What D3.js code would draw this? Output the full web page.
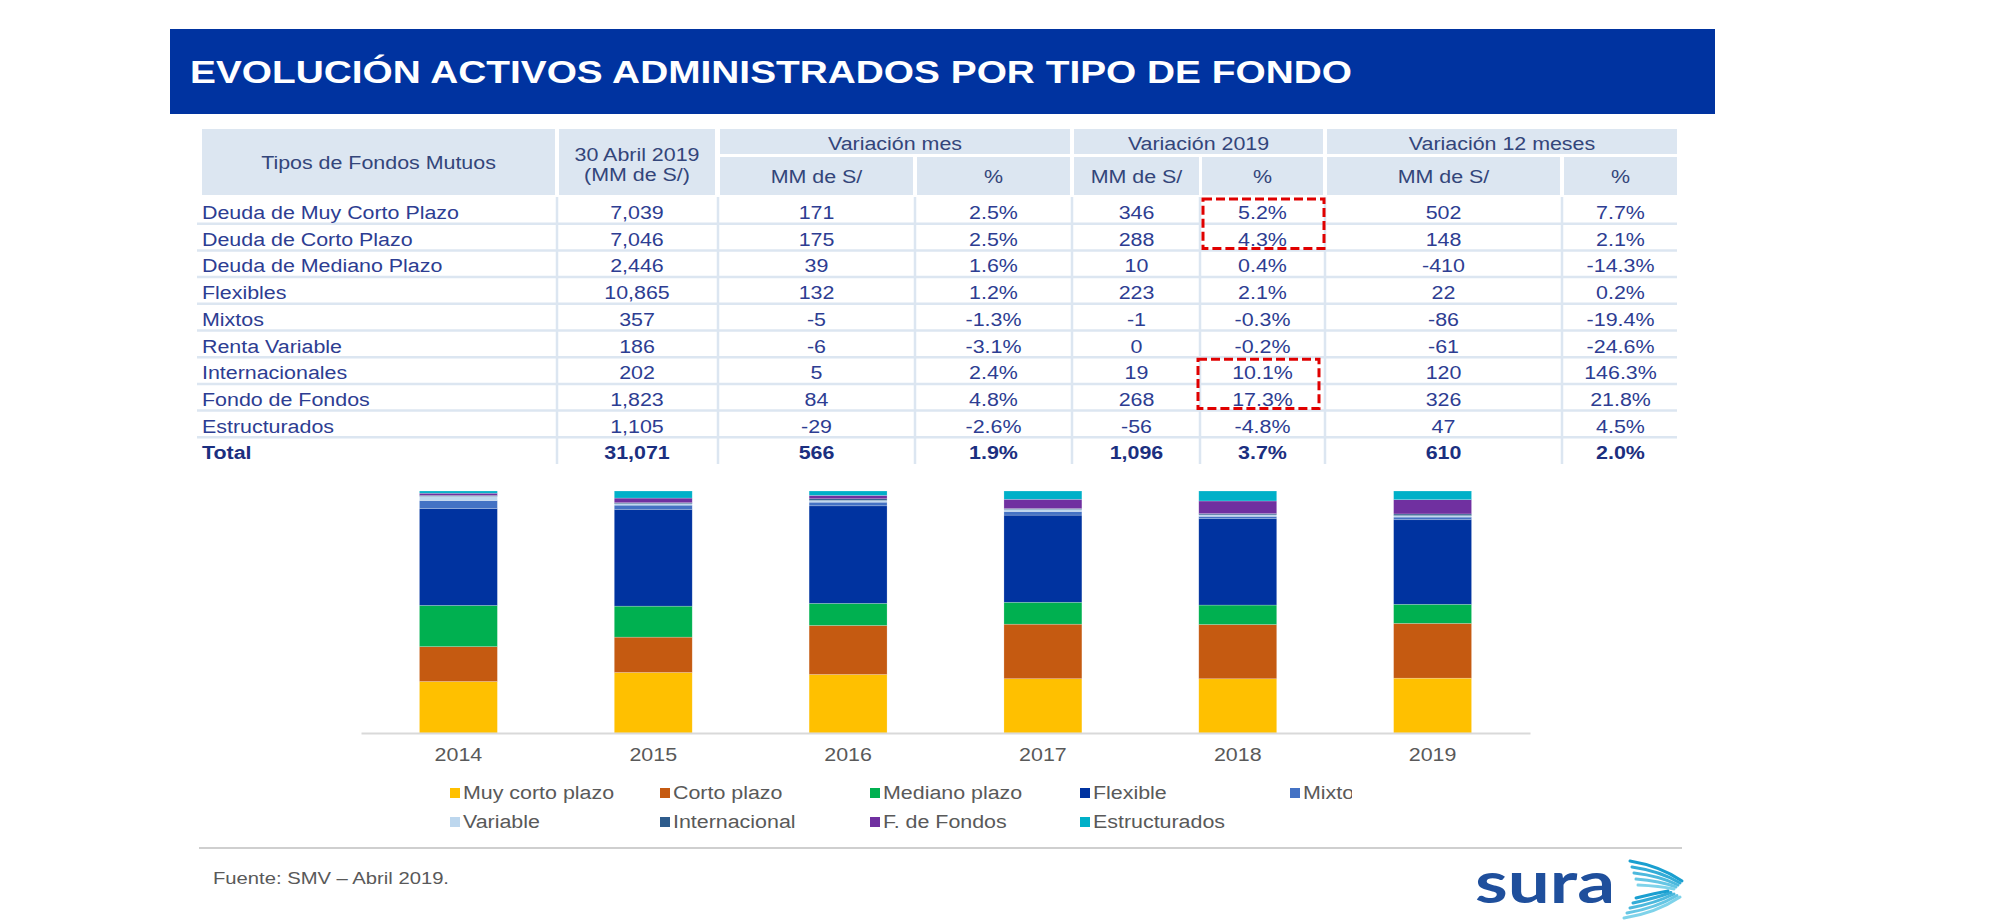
<!DOCTYPE html>
<html>
<head>
<meta charset="utf-8">
<script src="https://cdn.jsdelivr.net/npm/d3@7"></script>
<style>
  body { margin: 0; background: #fff; }
  svg { display: block; font-family: "Liberation Sans", Arial, sans-serif; }
</style>
</head>
<body>
<svg id="chart" width="2010" height="920"></svg>
<script>
// table data (MM de S/ and %)
var fondos = ["Deuda de Muy Corto Plazo", "Deuda de Corto Plazo", "Deuda de Mediano Plazo", "Flexibles",
  "Mixtos", "Renta Variable", "Internacionales", "Fondo de Fondos", "Estructurados", "Total"];
var saldoAbr19 = [7039, 7046, 2446, 10865, 357, 186, 202, 1823, 1105, 31071];
var varMesMM  = [171, 175, 39, 132, -5, -6, 5, 84, -29, 566];
var varMesPct = [2.5, 2.5, 1.6, 1.2, -1.3, -3.1, 2.4, 4.8, -2.6, 1.9];
var var19MM   = [346, 288, 10, 223, -1, 0, 19, 268, -56, 1096];
var var19Pct  = [5.2, 4.3, 0.4, 2.1, -0.3, -0.2, 10.1, 17.3, -4.8, 3.7];
var var12MM   = [502, 148, -410, 22, -86, -61, 120, 326, 47, 610];
var var12Pct  = [7.7, 2.1, -14.3, 0.2, -19.4, -24.6, 146.3, 21.8, 4.5, 2.0];

// chart data: share of total (%) per year
var years = ["2014", "2015", "2016", "2017", "2018", "2019"];
var muyCorto      = [21.1, 24.8, 24.1, 22.3, 22.3, 22.7];
var corto         = [14.3, 14.5, 20.2, 22.4, 22.3, 22.7];
var mediano       = [16.9, 12.7, 9.1, 9.0, 8.0, 7.9];
var flexible      = [39.7, 39.7, 40.2, 35.8, 35.5, 35.0];
var mixto         = [3.3, 1.7, 1.5, 1.5, 1.0, 1.1];
var variable      = [1.7, 0.6, 0.7, 0.8, 0.6, 0.6];
var internacional = [0.4, 0.4, 0.7, 0.4, 0.5, 0.7];
var fFondos       = [0.9, 1.9, 1.4, 3.8, 5.2, 5.9];
var estructurados = [0.9, 2.9, 1.8, 3.4, 4.1, 3.6];

var seriesNames = ["Muy corto plazo", "Corto plazo", "Mediano plazo", "Flexible", "Mixto",
  "Variable", "Internacional", "F. de Fondos", "Estructurados"];
var seriesValues = [muyCorto, corto, mediano, flexible, mixto, variable, internacional, fFondos, estructurados];
var seriesColors = ["#ffc000", "#c55a11", "#00b050", "#0033a0", "#4472c4",
  "#bdd7ee", "#2e5c8c", "#7030a0", "#00b0c8"];

var svg = d3.select("#chart");
var SX = 1.19; // the slide text is stretched horizontally

function stext(g, x, y, str, anchor) {
  return g.append("text")
    .attr("transform", "translate(" + x + "," + y + ") scale(" + SX + ",1)")
    .attr("text-anchor", anchor || "middle")
    .text(str);
}

// title band
svg.append("rect").attr("x", 170).attr("y", 29).attr("width", 1545).attr("height", 85).attr("fill", "#0033a0");
svg.append("text")
  .attr("x", 190).attr("y", 83)
  .attr("textLength", 1162).attr("lengthAdjust", "spacingAndGlyphs")
  .attr("fill", "#fff").attr("font-weight", "bold").attr("font-size", 32)
  .text("EVOLUCIÓN ACTIVOS ADMINISTRADOS POR TIPO DE FONDO");

// ---- table ----
var loc = d3.formatLocale({decimal: ".", thousands: ",", grouping: [3], currency: ["", ""], minus: "-"});
var fNum = loc.format(","), fPct = function(v) { return loc.format(".1f")(v) + "%"; };

var cols = [
  {x0: 202, x1: 555}, {x0: 559, x1: 715},
  {x0: 720, x1: 913}, {x0: 917, x1: 1070},
  {x0: 1074, x1: 1199}, {x0: 1202, x1: 1323},
  {x0: 1327, x1: 1560}, {x0: 1564, x1: 1677}
];
var groups = [{name: "Variación mes", c: [2, 3]}, {name: "Variación 2019", c: [4, 5]}, {name: "Variación 12 meses", c: [6, 7]}];
var hdrFill = "#dce6f1", hdrText = "#33457a";

var tbl = svg.append("g").attr("font-size", 18);

// header cells
tbl.append("rect").attr("x", cols[0].x0).attr("y", 129).attr("width", cols[0].x1 - cols[0].x0).attr("height", 66).attr("fill", hdrFill);
tbl.append("rect").attr("x", cols[1].x0).attr("y", 129).attr("width", cols[1].x1 - cols[1].x0).attr("height", 66).attr("fill", hdrFill);
groups.forEach(function(gr) {
  var a = cols[gr.c[0]], b = cols[gr.c[1]];
  tbl.append("rect").attr("x", a.x0).attr("y", 129).attr("width", b.x1 - a.x0).attr("height", 25).attr("fill", hdrFill);
  stext(tbl, (a.x0 + b.x1) / 2, 150, gr.name).attr("fill", hdrText);
  [a, b].forEach(function(c, k) {
    tbl.append("rect").attr("x", c.x0).attr("y", 157).attr("width", c.x1 - c.x0).attr("height", 38).attr("fill", hdrFill);
    stext(tbl, (c.x0 + c.x1) / 2, 183, k === 0 ? "MM de S/" : "%").attr("fill", hdrText);
  });
});
stext(tbl, (cols[0].x0 + cols[0].x1) / 2, 169, "Tipos de Fondos Mutuos").attr("fill", hdrText);
stext(tbl, (cols[1].x0 + cols[1].x1) / 2, 161, "30 Abril 2019").attr("fill", hdrText);
stext(tbl, (cols[1].x0 + cols[1].x1) / 2, 181, "(MM de S/)").attr("fill", hdrText);

// body grid
var rowTop = 197, rowH = 26.7;
var lineCol = "#dce6f1";
for (var i = 0; i < fondos.length - 1; i++) {
  tbl.append("line").attr("x1", 197).attr("x2", 1677)
    .attr("y1", rowTop + rowH * (i + 1)).attr("y2", rowTop + rowH * (i + 1))
    .attr("stroke", lineCol).attr("stroke-width", 2.5);
}
cols.slice(1).forEach(function(c) {
  tbl.append("line").attr("x1", c.x0 - 2).attr("x2", c.x0 - 2)
    .attr("y1", rowTop).attr("y2", rowTop + rowH * fondos.length)
    .attr("stroke", lineCol).attr("stroke-width", 2.5);
});

// body text
var columns = [saldoAbr19.map(fNum), varMesMM.map(fNum), varMesPct.map(fPct),
  var19MM.map(fNum), var19Pct.map(fPct), var12MM.map(fNum), var12Pct.map(fPct)];
fondos.forEach(function(name, r) {
  var isTotal = r === fondos.length - 1;
  var y = rowTop + 22 + rowH * r;
  var fill = isTotal ? "#1b2f80" : "#2d3d92";
  var w = isTotal ? "bold" : "normal";
  stext(tbl, cols[0].x0, y, name, "start").attr("fill", fill).attr("font-weight", w);
  columns.forEach(function(arr, c) {
    var col = cols[c + 1];
    stext(tbl, (col.x0 + col.x1) / 2, y, arr[r]).attr("fill", fill).attr("font-weight", w);
  });
});

// red dashed highlights on "Variación 2019 %"
[{row: 0, dx: 1}, {row: 6, dx: -4}].forEach(function(h) {
  var c = cols[5];
  tbl.append("rect")
    .attr("x", c.x0 + h.dx).attr("y", rowTop + rowH * h.row + 2)
    .attr("width", c.x1 - c.x0).attr("height", rowH * 2 - 4)
    .attr("fill", "none").attr("stroke", "#e00000").attr("stroke-width", 3)
    .attr("stroke-dasharray", "9,4");
});

// ---- stacked 100% bar chart ----
var table = years.map(function(y, j) {
  var row = {year: y};
  seriesNames.forEach(function(n, s) { row[n] = seriesValues[s][j]; });
  return row;
});
var stack = d3.stack().keys(seriesNames).offset(d3.stackOffsetExpand)(table);

var x = d3.scaleBand().domain(years).range([361, 1530]).paddingInner(0.6).paddingOuter(0.3);
var y = d3.scaleLinear().domain([0, 1]).range([733, 491]);

var chart = svg.append("g");
chart.selectAll("g.serie").data(stack).enter()
  .append("g").attr("class", "serie")
  .attr("fill", function(d, i) { return seriesColors[i]; })
  .selectAll("rect").data(function(d) { return d; }).enter()
  .append("rect")
    .attr("x", function(d) { return x(d.data.year); })
    .attr("width", x.bandwidth())
    .attr("y", function(d) { return y(d[1]); })
    .attr("height", function(d) { return y(d[0]) - y(d[1]); })
    .attr("stroke", "#fff").attr("stroke-opacity", 0.35).attr("stroke-width", 0.6);

var xAxis = chart.append("g").attr("transform", "translate(0,733)")
  .call(d3.axisBottom(x).tickSize(0).tickSizeOuter(0).tickPadding(15));
xAxis.select(".domain").attr("stroke", "#d9d9d9").attr("stroke-width", 2);
xAxis.selectAll("text").attr("font-size", 18).attr("fill", "#595959")
  .attr("font-family", "Liberation Sans, Arial, sans-serif")
  .attr("transform", "scale(" + SX + ",1)");

// legend (the last label is cut by the slide box)
svg.append("clipPath").attr("id", "legclip").append("rect").attr("x", 0).attr("y", 0).attr("width", 1352).attr("height", 920);
var legend = svg.append("g").attr("clip-path", "url(#legclip)").attr("font-size", 18).attr("fill", "#595959");
seriesNames.forEach(function(n, i) {
  var lx = 450 + (i % 5) * 210, ly = 793 + Math.floor(i / 5) * 29;
  legend.append("rect").attr("x", lx).attr("y", ly - 5).attr("width", 10).attr("height", 10).attr("fill", seriesColors[i]);
  stext(legend, lx + 13, ly + 6, n, "start");
});

// footer
svg.append("line").attr("x1", 199).attr("x2", 1682).attr("y1", 848).attr("y2", 848)
  .attr("stroke", "#bfbfbf").attr("stroke-width", 1.5);
stext(svg, 213, 884, "Fuente: SMV – Abril 2019.", "start").attr("font-size", 17).attr("fill", "#595959");

// sura logo
svg.append("text").attr("x", 1475).attr("y", 903)
  .attr("textLength", 140).attr("lengthAdjust", "spacingAndGlyphs")
  .attr("font-family", "Lato, 'Open Sans', sans-serif").attr("font-weight", "bold")
  .attr("font-size", 58).attr("fill", "#1f4f9c").text("sura");
var wing = svg.append("g").attr("fill", "none").attr("stroke-linecap", "round");
for (var k = 0; k < 5; k++) {
  wing.append("path")
    .attr("d", "M" + (1630 + k * 2) + "," + (861 + k * 6) + " Q1660," + (866 + k * 5) + " " + (1682 - k * 2) + "," + (881 + k * 2))
    .attr("stroke", d3.interpolateRgb("#1a9fd0", "#7fd3ea")(k / 4)).attr("stroke-width", 3);
  wing.append("path")
    .attr("d", "M" + (1624 + k * 3) + "," + (918 - k * 5) + " Q1656," + (913 - k * 5) + " " + (1680 - k * 3) + "," + (897 - k * 1.5))
    .attr("stroke", d3.interpolateRgb("#7fd3ea", "#1a9fd0")(k / 4)).attr("stroke-width", 3);
}
</script>
</body>
</html>
